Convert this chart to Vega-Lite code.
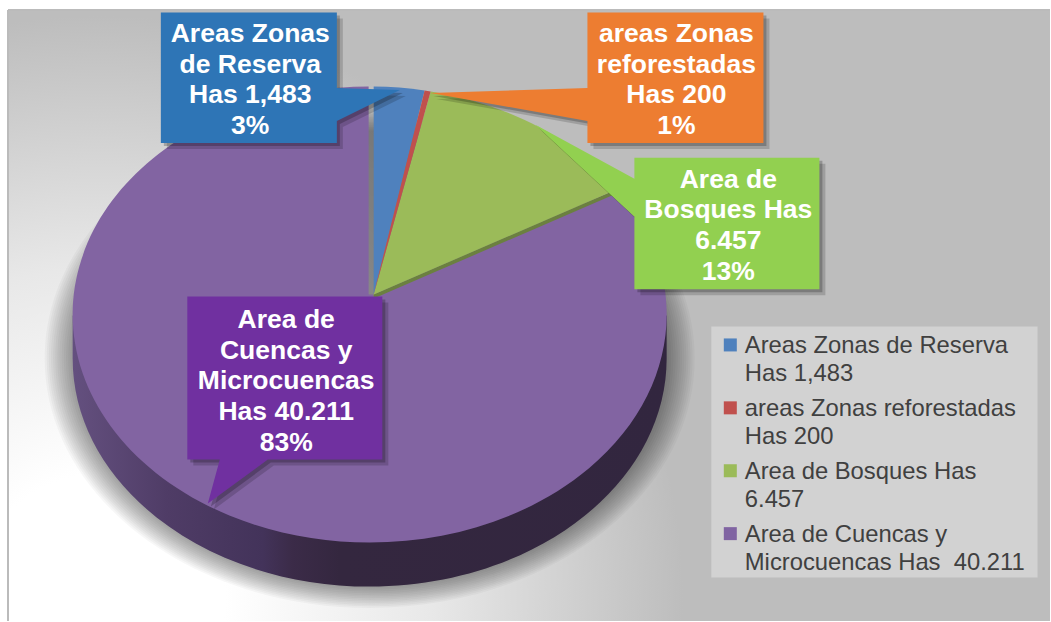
{
"$schema":"https://vega.github.io/schema/vega-lite/v6.json",
"autosize":{"type":"fit","contains":"padding"},
"width":1051,"height":622,"padding":0,"background":"white",
"config":{"view":{"stroke":null}},
"datasets":{
"slices":[
{"part":"Area de Cuencas y Microcuencas","has":40211,"pct":83,"x":370,"y":315},
{"part":"Area de Bosques borde","has":6457,"pct":13,"x":370,"y":315},
{"part":"Areas Zonas de Reserva","has":1483,"pct":3,"x":370,"y":315},
{"part":"areas Zonas reforestadas","has":200,"pct":1,"x":370,"y":315},
{"part":"Area de Bosques","has":6457,"pct":13,"x":370,"y":315}
],
"callouts":[
{"part":"blue","x":161,"y":12.5,"tx":250.5,"ty":34,"lines":["Areas Zonas","de Reserva","Has 1,483","3%"]},
{"part":"orange","x":588,"y":12.5,"tx":677,"ty":34,"lines":["areas Zonas","reforestadas","Has 200","1%"]},
{"part":"green","x":635,"y":158,"tx":729,"ty":180,"lines":["Area de","Bosques Has","6.457","13%"]},
{"part":"purple","x":187.5,"y":297,"tx":286.5,"ty":320.5,"lines":["Area de","Cuencas y","Microcuencas","Has 40.211","83%"]}
],
"legend":[
{"part":"Areas Zonas de Reserva","x":731,"y":345.5,"tx":745.5,"ty":347,"lines":["Areas Zonas de Reserva","Has 1,483"]},
{"part":"areas Zonas reforestadas","x":731,"y":408.5,"tx":745.5,"ty":410,"lines":["areas Zonas reforestadas","Has 200"]},
{"part":"Area de Bosques","x":731,"y":471.5,"tx":745.5,"ty":473,"lines":["Area de Bosques Has","6.457"]},
{"part":"Area de Cuencas y Microcuencas","x":731,"y":534.5,"tx":745.5,"ty":536,"lines":["Area de Cuencas y","Microcuencas Has\u00a0 40.211"]}
]
},
"encoding":{
"x":{"field":"x","type":"quantitative","scale":{"domain":[0,1051],"nice":false,"zero":false},"axis":null},
"y":{"field":"y","type":"quantitative","scale":{"domain":[622,0],"nice":false,"zero":false},"axis":null}
},
"resolve":{"scale":{"color":"independent","shape":"independent"}},
"layer":[
{"data":{"values":[{"x":8,"y":10,"x2":1051,"y2":622}]},
 "mark":{"type":"rect","fill":{"gradient":"radial","x1":0.0882,"y1":0.7724,"r1":0.12,"x2":0.0882,"y2":0.7724,"r2":0.56,"stops":[{"offset":0,"color":"#ffffff"},{"offset":0.45,"color":"#e8e8e8"},{"offset":1,"color":"#bdbdbd"}]}},
 "encoding":{"x2":{"field":"x2"},"y2":{"field":"y2"}}},
{"data":{"values":[{"x":8,"y":10,"x2":8,"y2":622},{"x":8,"y":10,"x2":1051,"y2":10}]},
 "mark":{"type":"rule","color":"#bbbbbb","strokeWidth":2},
 "encoding":{"x2":{"field":"x2"},"y2":{"field":"y2"}}},
{"data":{"values":[{"ring":1,"x":370,"y":359},{"ring":2,"x":370,"y":359},{"ring":3,"x":370,"y":359},{"ring":4,"x":370,"y":359},{"ring":5,"x":370,"y":359},{"ring":6,"x":370,"y":359},{"ring":7,"x":370,"y":359},{"ring":8,"x":370,"y":359},{"ring":9,"x":370,"y":359},{"ring":10,"x":370,"y":359},{"ring":11,"x":370,"y":359},{"ring":12,"x":370,"y":359},{"ring":13,"x":370,"y":359},{"ring":14,"x":370,"y":359}]},
 "mark":{"type":"point","filled":true,"color":"#000000","opacity":0.03,"shape":"M-1,0A1,.7677 0 1 1 1,0A1,.7677 0 1 1 -1,0Z"},
 "encoding":{"size":{"field":"ring","type":"quantitative","scale":{"domain":[1,14],"range":[352836,422500],"zero":false},"legend":null}}},
{"data":{"values":[{"part":"lado","x":370,"y":316}]},
 "mark":{"type":"point","filled":true,"opacity":1,"size":352836,"shape":"M-1,0L-1,.145A1,.7677 0 0 0 1,.145L1,0Z",
  "fill":{"gradient":"linear","x1":0,"y1":0,"x2":1,"y2":0,"stops":[{"offset":0,"color":"#64507f"},{"offset":0.16,"color":"#4f3c66"},{"offset":0.32,"color":"#43335a"},{"offset":0.37,"color":"#3b2b48"},{"offset":0.45,"color":"#34273f"},{"offset":1,"color":"#32263f"}]}}},
{"data":{"name":"slices"},
 "mark":{"type":"point","filled":true,"opacity":1,"size":352836},
 "encoding":{
  "order":{"field":"has","type":"quantitative","sort":"descending"},
  "color":{"field":"part","type":"nominal","legend":null,"scale":{"domain":["Area de Cuencas y Microcuencas","Area de Bosques borde","Areas Zonas de Reserva","areas Zonas reforestadas","Area de Bosques"],"range":["#8264a2","#6b8040","#4f81bd","#c0504d","#9bbb59"]}},
  "shape":{"field":"part","type":"nominal","legend":null,"scale":{"domain":["Area de Cuencas y Microcuencas","Area de Bosques borde","Areas Zonas de Reserva","areas Zonas reforestadas","Area de Bosques"],"range":[
   "M.0135,-.0572L.835,-.4226A1,.7677 0 1 1 -.0034,-.7677L-.0034,-.0673L.0135,-.0673Z",
   "M.0135,-.0673L.835,-.4226L.835,-.409L.0135,-.0538Z",
   "M.0135,-.0673L.0135,-.7676A1,.7677 0 0 1 .1852,-.7544Z",
   "M.0135,-.0673L.1852,-.7544A1,.7677 0 0 1 .2054,-.7512Z",
   "M.0135,-.0673L.2054,-.7512A1,.7677 0 0 1 .835,-.4226Z"]}}
 }},
{"data":{"name":"callouts"},
 "mark":{"type":"point","filled":true,"color":"#000000","opacity":0.16,"size":40000,"xOffset":6,"yOffset":6},
 "encoding":{"shape":{"field":"part","type":"nominal","legend":null,"scale":{"domain":["blue","orange","green","purple"],"range":[
   "M0,0L1.76,0L1.76,.755L2.39,.775L1.76,1.085L1.76,1.305L0,1.305Z",
   "M0,0L1.76,0L1.76,1.305L0,1.305L0,1.085L-1.57,.805L0,.755Z",
   "M0,0L1.85,0L1.85,1.315L0,1.315L0,.59L-.99,-.33L0,.21Z",
   "M0,0L1.95,0L1.95,1.63L.805,1.63L.205,2.07L.325,1.63L0,1.63Z"]}}}},
{"data":{"name":"callouts"},
 "mark":{"type":"point","filled":true,"color":"#000000","opacity":0.22,"size":40000,"xOffset":3,"yOffset":3},
 "encoding":{"shape":{"field":"part","type":"nominal","legend":null,"scale":{"domain":["blue","orange","green","purple"],"range":[
   "M0,0L1.76,0L1.76,.755L2.39,.775L1.76,1.085L1.76,1.305L0,1.305Z",
   "M0,0L1.76,0L1.76,1.305L0,1.305L0,1.085L-1.57,.805L0,.755Z",
   "M0,0L1.85,0L1.85,1.315L0,1.315L0,.59L-.99,-.33L0,.21Z",
   "M0,0L1.95,0L1.95,1.63L.805,1.63L.205,2.07L.325,1.63L0,1.63Z"]}}}},
{"data":{"name":"callouts"},
 "mark":{"type":"point","filled":true,"opacity":1,"size":40000},
 "encoding":{
  "color":{"field":"part","type":"nominal","legend":null,"scale":{"domain":["blue","orange","green","purple"],"range":["#2e75b6","#ed7d31","#92d050","#7030a0"]}},
  "shape":{"field":"part","type":"nominal","legend":null,"scale":{"domain":["blue","orange","green","purple"],"range":[
   "M0,0L1.76,0L1.76,.755L2.39,.775L1.76,1.085L1.76,1.305L0,1.305Z",
   "M0,0L1.76,0L1.76,1.305L0,1.305L0,1.085L-1.57,.805L0,.755Z",
   "M0,0L1.85,0L1.85,1.315L0,1.315L0,.59L-.99,-.33L0,.21Z",
   "M0,0L1.95,0L1.95,1.63L.805,1.63L.205,2.07L.325,1.63L0,1.63Z"]}}}},
{"data":{"name":"callouts"},
 "mark":{"type":"text","font":"Liberation Sans","fontWeight":"bold","fontSize":26.5,"lineHeight":30.7,"color":"#ffffff","align":"center","baseline":"middle"},
 "encoding":{"x":{"field":"tx","type":"quantitative"},"y":{"field":"ty","type":"quantitative"},"text":{"field":"lines"}}},
{"data":{"values":[{"x":712,"y":327,"x2":1038.5,"y2":578.5}]},
 "mark":{"type":"rect","fill":"#d2d2d2"},
 "encoding":{"x2":{"field":"x2"},"y2":{"field":"y2"}}},
{"data":{"name":"legend"},
 "mark":{"type":"point","filled":true,"opacity":1,"shape":"square","size":169},
 "encoding":{"color":{"field":"part","type":"nominal","legend":null,"scale":{"domain":["Areas Zonas de Reserva","areas Zonas reforestadas","Area de Bosques","Area de Cuencas y Microcuencas"],"range":["#4f81bd","#c0504d","#9bbb59","#8064a2"]}}}},
{"data":{"name":"legend"},
 "mark":{"type":"text","font":"Liberation Sans","fontSize":23.8,"lineHeight":28,"color":"#404040","align":"left","baseline":"middle"},
 "encoding":{"x":{"field":"tx","type":"quantitative"},"y":{"field":"ty","type":"quantitative"},"text":{"field":"lines"}}}
]
}
